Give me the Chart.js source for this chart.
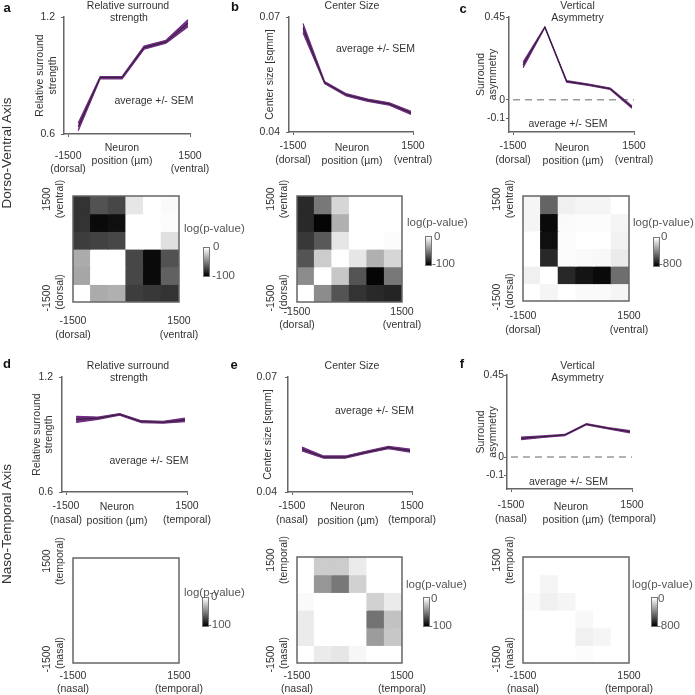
<!DOCTYPE html>
<html><head><meta charset="utf-8">
<script src="https://cdn.jsdelivr.net/npm/chart.js@4"></script>
<style>
body{margin:0;width:695px;height:695px;background:#fff;position:relative;overflow:hidden;font-family:"Liberation Sans",Arial,sans-serif;color:#333}
.t{position:absolute;white-space:nowrap;font-size:10.5px;line-height:1;transform:translate(-50%,-50%);}
.l{position:absolute;white-space:nowrap;font-size:11.5px;line-height:1;transform:translate(0,-50%);color:#555}
.r{position:absolute;white-space:nowrap;line-height:1;transform:translate(-50%,-50%) rotate(-90deg);font-size:13.5px;color:#333}
.p{position:absolute;white-space:nowrap;font-weight:bold;font-size:13px;line-height:1;transform:translate(-50%,-50%);color:#111}
.cb{position:absolute;background:linear-gradient(to bottom,#fff,#000);border:1px solid #777;box-sizing:border-box}
canvas{position:absolute}
</style></head><body>
<script>
// ---------- data ----------
const xPos = [-1250, -710, -170, 370, 910, 1450];          // neuron position bins (µm)
const tickPos = [-1500, 1500];
const dvTickLabels = [["-1500","(dorsal)"],["1500","(ventral)"]];
const ntTickLabels = [["-1500","(nasal)"],["1500","(temporal)"]];

const surroundDV = [0.637, 0.889, 0.889, 1.043, 1.073, 1.168];
const surroundDVsem = [0.02, 0.006, 0.006, 0.008, 0.008, 0.018];
const centerDV = [0.0671, 0.0529, 0.0497, 0.0483, 0.0473, 0.0450];
const centerDVsem = [0.0012, 0.0003, 0.0003, 0.0003, 0.0003, 0.0004];
const asymDV = [0.19, 0.395, 0.10, 0.082, 0.06, -0.04];
const asymDVsem = [0.015, 0.002, 0.004, 0.004, 0.004, 0.006];

const surroundNT = [0.979, 0.985, 1.005, 0.967, 0.964, 0.976];
const surroundNTsem = [0.016, 0.006, 0.004, 0.005, 0.005, 0.009];
const centerNT = [0.0512, 0.0491, 0.0491, 0.0504, 0.0516, 0.0508];
const centerNTsem = [0.0005, 0.0003, 0.0003, 0.0003, 0.0003, 0.0004];
const asymNT = [0.103, 0.112, 0.121, 0.18, 0.158, 0.139];
const asymNTsem = [0.007, 0.004, 0.003, 0.003, 0.004, 0.006];

const yTicksSurround = [0.6, 1.2];
const yTicksCenter = [0.04, 0.07];
const yTicksAsym = [-0.1, 0, 0.45];

// heatmap bins
const colCenters = [-1250, -750, -250, 250, 750, 1250];
const rowEdges = [1500, 1000, 500, 0, -500, -1000, -1500]; // top to bottom
// log(p-value), rows listed top (1500) to bottom (-1500)
const pSurroundDV = [
  [-80,-68,-72,-10,0,-2],
  [-80,-96,-94,0,0,-1],
  [-76,-74,-72,0,0,-12],
  [-33,0,0,-72,-96,-68],
  [-35,0,0,-72,-96,-62],
  [0,-33,-31,-76,-78,-80]];
const pCenterDV = [
  [-84,-53,-16,0,0,0],
  [-84,-98,-31,0,0,0],
  [-78,-65,-10,0,0,-1],
  [-67,-20,0,-10,-31,-16],
  [-45,0,-22,-67,-98,-53],
  [0,-45,-67,-80,-84,-86]];
const pAsymDV = [
  [-31,-486,-47,-31,-31,0],
  [-31,-769,-16,-9,-9,-31],
  [0,-753,-9,0,0,-41],
  [0,-675,-9,-16,-22,-63],
  [-47,0,-675,-737,-769,-455],
  [0,-31,0,-16,-16,-31]];
const pSurroundNT = [
  [0,0,0,0,0,0],[0,0,0,0,0,0],[0,0,0,0,0,0],
  [0,0,0,0,0,0],[0,0,0,0,0,0],[0,0,0,0,0,0]];
const pCenterNT = [
  [0,-20,-20,-8,0,0],
  [0,-41,-53,-18,0,0],
  [-2,0,0,0,-18,-8],
  [-8,0,0,0,-55,-24],
  [-8,0,0,0,-39,-22],
  [0,-8,-10,-3,0,0]];
const pAsymNT = [
  [0,0,0,0,0,0],
  [0,-31,0,0,0,0],
  [-16,-47,-31,0,0,0],
  [0,0,0,-22,0,0],
  [0,0,0,-47,-31,0],
  [0,0,0,-9,0,0]];

// ---------- style ----------
const FF = '"Liberation Sans", Arial, sans-serif';
const TXT = '#333';
const AX = '#666';
const BAND = 'rgb(112,44,128)';
const MEAN = '#2c1f30';

function mkCanvas(r){
  const c=document.createElement('canvas');
  c.width=r.w; c.height=r.h;
  c.style.left=r.x+'px'; c.style.top=r.y+'px';
  c.style.width=r.w+'px'; c.style.height=r.h+'px';
  document.body.appendChild(c); return c;
}

function lineChart(cfg){
  const r=cfg.region, a=cfg.area, lh=12.6, xH=45;
  const yW = a.L - r.x;
  const titlePad = cfg.yTitleX - lh/2 - r.x;
  const padding={left:0,right:r.x+r.w-a.R,top:a.T-r.y,bottom:r.y+r.h-a.B-xH};
  const pts = arr => arr.map((v,i)=>({x:xPos[i],y:v}));
  const ds=[
    {data:pts(cfg.mean),borderColor:MEAN,borderWidth:1,pointRadius:0,fill:false},
    {data:pts(cfg.mean.map((m,i)=>m+cfg.sem[i])),borderColor:BAND,borderWidth:1.2,pointRadius:0,fill:false},
    {data:pts(cfg.mean.map((m,i)=>m-cfg.sem[i])),borderColor:BAND,borderWidth:1.2,pointRadius:0,fill:'-1',backgroundColor:BAND}
  ];
  if(cfg.zero) ds.push({data:tickPos.map(x=>({x,y:0})),borderColor:'#999',borderDash:[7,5],borderWidth:1.5,pointRadius:0,fill:false});
  const tickFont={size:10.5,family:FF,lineHeight:1.25};
  new Chart(mkCanvas(r),{type:'line',data:{datasets:ds},options:{
    responsive:false,animation:false,events:[],
    layout:{padding},
    elements:{line:{tension:0}},
    plugins:{legend:{display:false},tooltip:{enabled:false}},
    scales:{
      x:{type:'linear',min:-1600,max:1500,
        afterBuildTicks:s=>{s.ticks=tickPos.map(v=>({value:v}));},
        ticks:{autoSkip:false,maxRotation:0,padding:cfg.xtp,color:TXT,font:tickFont,callback:(v,i)=>cfg.xLabels[i]},
        grid:{display:true,drawOnChartArea:false,drawTicks:true,tickLength:3,color:AX},
        border:{color:AX,width:1.5},
        afterFit:s=>{s.height=xH;}},
      y:{type:'linear',min:cfg.ymin,max:cfg.ymax,
        afterBuildTicks:s=>{s.ticks=cfg.yTicks.map(v=>({value:v}));},
        ticks:{padding:cfg.ytp,color:TXT,font:tickFont,callback:v=>String(v)},
        grid:{display:true,drawOnChartArea:false,drawTicks:true,tickLength:3,color:AX},
        border:{color:AX,width:1.5},
        title:{display:true,text:cfg.yTitle,padding:{top:titlePad,bottom:0},color:TXT,font:{size:10.5,family:FF,lineHeight:1.2}},
        afterFit:s=>{s.width=yW;}}
    }}});
}

function gray(v,vmin){const g=Math.max(0,Math.min(255,Math.round(255*(1-v/vmin))));return `rgb(${g},${g},${g})`;}

const framePlugin={id:'frame',afterDraw(chart){const {ctx,chartArea:c}=chart;ctx.save();ctx.strokeStyle=AX;ctx.lineWidth=1.5;ctx.strokeRect(c.left,c.top,c.right-c.left,c.bottom-c.top);ctx.restore();}};
function rotYPlugin(labels){return {id:'rotY',afterDraw(chart){
  const ctx=chart.ctx, ys=chart.scales.y, L=chart.chartArea.left;
  ctx.save();ctx.fillStyle=TXT;ctx.font='10.5px '+FF;ctx.textAlign='center';ctx.textBaseline='middle';
  tickPos.forEach((v,k)=>{
    const py=ys.getPixelForValue(v);
    labels[k].forEach((line,li)=>{
      const cy = k===1 ? py+3 : py-(li===0?4:10);
      ctx.save();ctx.translate(L-25.5+li*13,cy);ctx.rotate(-Math.PI/2);ctx.fillText(line,0,0);ctx.restore();
    });
  });
  ctx.restore();}};}

function heatChart(cfg){
  const r=cfg.region,a=cfg.area,xH=45;
  const padding={left:a.L-r.x,right:r.x+r.w-a.R,top:a.T-r.y,bottom:r.y+r.h-a.B-xH};
  const datasets=cfg.vals.map((row,i)=>({
    data:row.map((v,j)=>({x:colCenters[j],y:[rowEdges[i+1],rowEdges[i]]})),
    backgroundColor:row.map(v=>gray(v,cfg.vmin)),
    borderWidth:0,grouped:false,barPercentage:1,categoryPercentage:1,inflateAmount:0.6
  }));
  new Chart(mkCanvas(r),{type:'bar',data:{datasets},plugins:[framePlugin,rotYPlugin(cfg.labels)],options:{
    responsive:false,animation:false,events:[],
    layout:{padding},
    plugins:{legend:{display:false},tooltip:{enabled:false}},
    scales:{
      x:{type:'linear',min:-1500,max:1500,offset:false,
        afterBuildTicks:s=>{s.ticks=tickPos.map(v=>({value:v}));},
        ticks:{autoSkip:false,maxRotation:0,padding:cfg.xtp,color:TXT,font:{size:10.5,family:FF,lineHeight:1.25},callback:(v,i)=>cfg.labels[i]},
        grid:{display:false,drawTicks:false,offset:false},border:{display:false},
        afterFit:s=>{s.height=xH;}},
      y:{type:'linear',min:-1500,max:1500,display:false}
    }}});
}

// ---------- line charts ----------
lineChart({region:{x:0,y:0,w:230,h:185},area:{L:64,R:190,T:17,B:134},yTitleX:40.5,ytp:6,xtp:12.5,
  mean:surroundDV,sem:surroundDVsem,ymin:0.6,ymax:1.2,yTicks:yTicksSurround,yTitle:['Relative surround','strength'],xLabels:dvTickLabels});
lineChart({region:{x:230,y:0,w:230,h:185},area:{L:289,R:413,T:17,B:132},yTitleX:270.5,ytp:6,xtp:5,
  mean:centerDV,sem:centerDVsem,ymin:0.04,ymax:0.07,yTicks:yTicksCenter,yTitle:'Center size [sqmm]',xLabels:dvTickLabels});
lineChart({region:{x:460,y:0,w:235,h:185},area:{L:509,R:634,T:17,B:132},yTitleX:481,ytp:1,xtp:5,zero:true,
  mean:asymDV,sem:asymDVsem,ymin:-0.175,ymax:0.45,yTicks:yTicksAsym,yTitle:['Surround','asymmetry'],xLabels:dvTickLabels});
lineChart({region:{x:0,y:360,w:230,h:180},area:{L:62,R:187,T:377,B:492},yTitleX:37,ytp:6,xtp:5,
  mean:surroundNT,sem:surroundNTsem,ymin:0.6,ymax:1.2,yTicks:yTicksSurround,yTitle:['Relative surround','strength'],xLabels:ntTickLabels});
lineChart({region:{x:230,y:360,w:230,h:180},area:{L:288,R:412,T:377,B:492},yTitleX:268.5,ytp:8,xtp:5,
  mean:centerNT,sem:centerNTsem,ymin:0.04,ymax:0.07,yTicks:yTicksCenter,yTitle:'Center size [sqmm]',xLabels:ntTickLabels});
lineChart({region:{x:460,y:360,w:235,h:180},area:{L:507,R:632,T:375,B:489},yTitleX:481,ytp:0,xtp:7,zero:true,
  mean:asymNT,sem:asymNTsem,ymin:-0.175,ymax:0.45,yTicks:yTicksAsym,yTitle:['Surround','asymmetry'],xLabels:ntTickLabels});

// ---------- heatmaps ----------
heatChart({region:{x:0,y:180,w:230,h:180},area:{L:73,R:179,T:196,B:302},xtp:13,vals:pSurroundDV,vmin:-100,labels:dvTickLabels});
heatChart({region:{x:230,y:180,w:230,h:180},area:{L:297,R:402,T:196,B:302},xtp:3.7,vals:pCenterDV,vmin:-100,labels:dvTickLabels});
heatChart({region:{x:460,y:180,w:235,h:180},area:{L:523,R:629,T:196,B:301},xtp:9,vals:pAsymDV,vmin:-800,labels:dvTickLabels});
heatChart({region:{x:0,y:530,w:230,h:190},area:{L:73,R:179,T:558,B:663},xtp:6.5,vals:pSurroundNT,vmin:-100,labels:ntTickLabels});
heatChart({region:{x:230,y:530,w:230,h:190},area:{L:297,R:402,T:557,B:663},xtp:6.5,vals:pCenterNT,vmin:-100,labels:ntTickLabels});
heatChart({region:{x:460,y:530,w:235,h:190},area:{L:523,R:629,T:557,B:663},xtp:6.5,vals:pAsymNT,vmin:-800,labels:ntTickLabels});

// ---------- text ----------
function addT(cls,s,x,y,extra){const d=document.createElement('div');d.className=cls;d.textContent=s;d.style.left=x+'px';d.style.top=y+'px';if(extra)Object.assign(d.style,extra);document.body.appendChild(d);}
[['a',7,7],['b',235,6],['c',463,8],['d',7,363],['e',234,364],['f',462,363]].forEach(p=>addT('p',...p));
[['Relative surround',128,5],['strength',129,17],['Center Size',352,5],['Vertical',577.5,5],['Asymmetry',577.5,17],
 ['Relative surround',128,365],['strength',129,377],['Center Size',352,365],['Vertical',577.5,365],['Asymmetry',577.5,377],
 ['Neuron',122,147],['position (µm)',122,159.5],['Neuron',352,147],['position (µm)',352,160],['Neuron',572,147],['position (µm)',573,160],
 ['Neuron',117,506],['position (µm)',117,519.5],['Neuron',347.5,506],['position (µm)',348,520],['Neuron',571,506],['position (µm)',573,519],
 ['average +/- SEM',154,100],['average +/- SEM',375.5,48],['average +/- SEM',568,123],
 ['average +/- SEM',149,460],['average +/- SEM',374.5,410],['average +/- SEM',568.5,481]].forEach(p=>addT('t',...p));
addT('r','Dorso-Ventral Axis',7,153);
addT('r','Naso-Temporal Axis',7,523.5);
// colorbars
[[203,247,'-100',184,229,213,247,212,276],[425,236,'-100',407,223,434,237,432,264],[653,237,'-800',633,223,661,237,659,264],
 [202,597,'-100',184,593,211,597,208,625],[423,597,'-100',406,585,431,599,429,626],[651,597,'-800',632,585,658,599,657,626]]
 .forEach(c=>{
   const d=document.createElement('div');d.className='cb';d.style.left=c[0]+'px';d.style.top=c[1]+'px';d.style.width='7px';d.style.height='30px';document.body.appendChild(d);
   addT('l','log(p-value)',c[3],c[4]);addT('l','0',c[5],c[6]);addT('l',c[2],c[7],c[8]);
 });
</script>
</body></html>
